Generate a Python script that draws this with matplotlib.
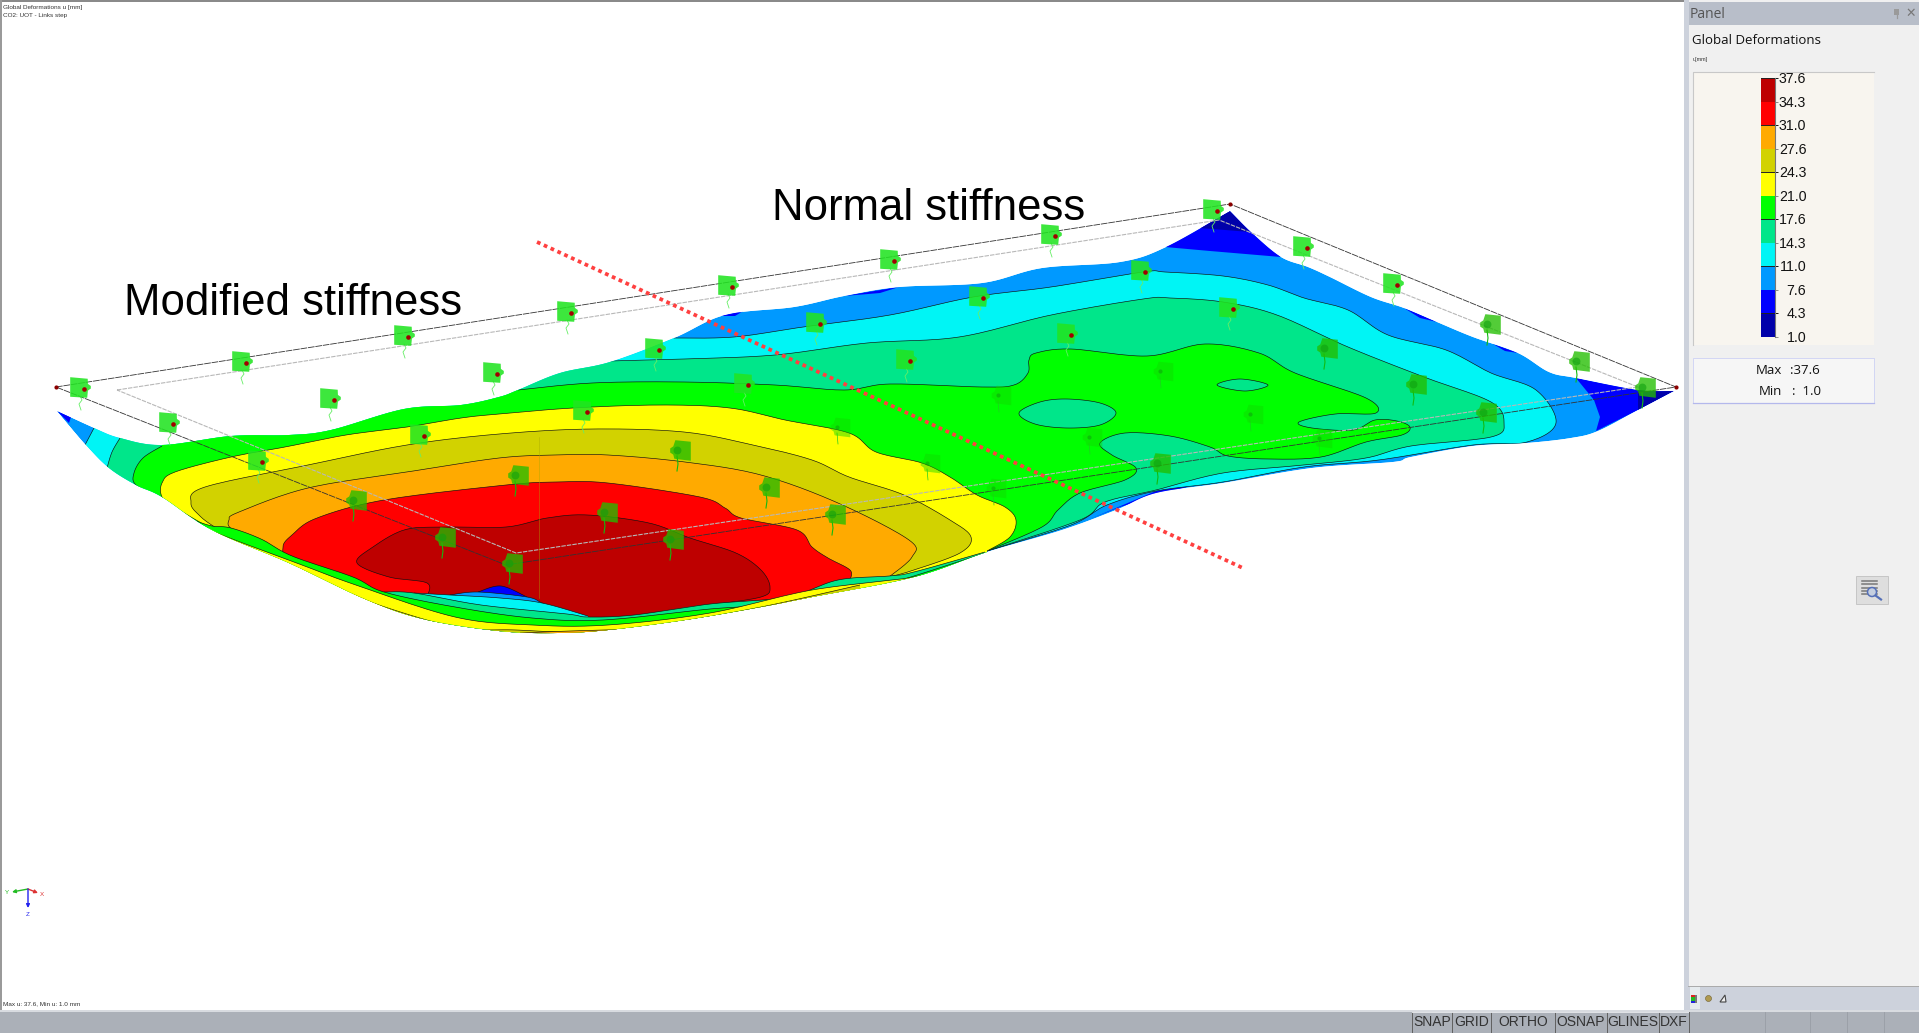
import numpy as np
import matplotlib
matplotlib.use("Agg")
import matplotlib.pyplot as plt
from matplotlib.patches import Polygon, Rectangle, Circle
from matplotlib.transforms import ScaledTranslation

W, H = 1919, 1033
# ---------- legend values ----------
LEVELS = ["37.6","34.3","31.0","27.6","24.3","21.0","17.6","14.3","11.0","7.6","4.3","1.0"]
C_DRED, C_RED, C_ORG, C_OLV, C_YEL, C_GRN, C_TEAL, C_CYAN, C_LBL, C_BLU, C_NVY = (
    "#BE0000","#FF0000","#FFAA00","#D2D200","#FFFF00","#00FF00","#00E68A","#00F5F5","#0099FF","#0000FF","#0000AA")
BAND_COLORS = [C_DRED, C_RED, C_ORG, C_OLV, C_YEL, C_GRN, C_TEAL, C_CYAN, C_LBL, C_BLU, C_NVY]
MAJOR_TICK = [1,0,1,0,1,0,1,0,1,0,1,0]

# ---------- surface outline ----------
SIL_TOP = [(57,411),(94,428),(120,438),(162,445),(231,436),(289,435),(331,430),(404,409),(461,405),(499,397),(518,390),(560,373),(610,362),(674,338),(725,315),(794,307),(844,296),(899,287),(982,283),(1042,268),(1120,262),(1166,247),(1230,211)]
SIL_RIGHT = [(1230,211),(1252,233),(1281,257),(1308,267),(1330,277),(1371,297),(1404,308),(1437,322),(1473,337),(1518,353),(1549,372),(1576,378),(1638,390),(1674,391)]
SIL_BOTTOM = [(1674,391),(1638,410),(1598,431),(1571,438),(1527,443),(1473,446),(1411,457),(1393,462),(1312,468),(1223,483),(1156,493),(1116,510),(1062,530),(987,552),(914,577),(812,597),(761,607),(685,620),(608,630),(557,633),(499,631),(423,619),(365,599),(289,563),(212,530),(162,497),(136,485),(109,468),(86,445),(57,411)]

# ---------- contour boundaries (left piece, main piece) ----------
CYAN_LEFT = [(85,445),(94,428)]
CYAN_MAIN = [(674,338),(734,337),(803,327),(890,315),(973,297),(1051,287),(1143,272),(1165,272),(1223,276),(1268,285),(1304,298),(1348,310),(1388,335),(1446,350),(1491,373),(1536,390),(1556,423),(1527,442),(1473,445),(1379,460),(1304,467),(1223,482),(1156,491),(1107,505),(1071,525),(987,551)]
TEAL_LEFT = [(107,468),(112,452),(120,438)]
TEAL_MAIN = [(610,361),(684,359),(775,355),(867,343),(959,337),(1051,315),(1143,299),(1170,298),(1223,302),(1277,315),(1348,347),(1424,377),(1491,402),(1504,423),(1491,437),(1411,446),(1366,458),(1304,465),(1223,473),(1156,490),(1105,502),(1080,520),(987,551)]
GREEN_LEFT = [(160,497),(136,485),(134,473),(143,458),(162,446)]
GREEN_MAIN = [(518,390),(592,383),(684,382),(775,385),(844,390),(890,384),(982,387),(1014,385),(1028,373),(1029,360),(1036,353),(1071,349),(1147,356),(1205,344),(1259,353),(1295,373),(1366,398),(1376,413),(1335,414),(1299,422),(1312,428),(1353,430),(1375,420),(1397,421),(1410,427),(1402,435),(1366,442),(1321,457),(1268,459),(1228,456),(1210,447),(1170,436),(1125,433),(1100,443),(1112,455),(1136,468),(1125,480),(1080,493),(1058,510),(1042,527),(987,551)]
GREEN_HOLE_A = [(1019,413),(1040,402),(1067,399),(1100,403),(1116,413),(1100,425),(1067,428),(1035,424)]
GREEN_HOLE_B = [(1217,385),(1240,379),(1268,385),(1245,391)]
YELLOW_MAIN = [(208,527),(174,507),(162,497),(162,483),(175,472),(231,457),(285,447),(346,435),(407,427),(461,418),(499,414),(573,408),(661,405),(730,408),(785,420),(849,433),(876,452),(922,463),(950,477),(977,495),(1005,507),(1016,520),(1010,537),(987,551)]
OLIVE_MAIN = [(216,528),(201,517),(191,503),(205,487),(308,465),(407,445),(499,434),(592,429),(684,432),(753,445),(812,460),(849,477),(904,495),(950,520),(971,537),(960,553),(914,570),(889,577)]
ORANGE_MAIN = [(293,560),(270,548),(233,530),(229,520),(239,512),(308,488),(407,472),(499,458),(557,455),(608,455),(685,462),(761,475),(838,503),(909,540),(912,557),(889,577)]
RED_MAIN = [(353,582),(292,560),(283,547),(292,535),(317,518),(384,500),(506,485),(557,482),(608,483),(700,497),(725,508),(741,518),(797,530),(812,547),(828,558),(850,570),(850,580)]
DRED_MAIN = [(427,597),(427,583),(389,577),(357,563),(373,547),(404,530),(440,527),(506,527),(547,518),(588,515),(649,523),(690,538),(736,553),(761,570),(770,587),(761,597),(710,605)]

# ---------- front fold bands ----------
BAND_NAVY = [(478,592),(501,586),(527,597)]
BAND_BLUE = [(450,595),(478,592),(527,597),(542,603),(560,611)]
BAND_CYAN = [(414,593),(450,595),(500,598),(542,603),(588,616)]
BAND_TEAL = [(384,592),(414,593),(481,605),(567,614),(588,617),(634,615),(710,604),(787,597),(838,580),(889,576),(914,572),(985,552)]
BAND_GREEN = [(196,521),(212,526),(231,528),(261,539),(292,556),(353,577),(384,592),(455,607),(532,618),(603,620),(710,609),(787,603),(838,587),(889,582),(914,576),(985,553)]
BAND_YELLOW = [(214,532),(240,542),(302,565),(353,584),(455,617),(532,625),(608,625),(710,613),(812,590),(914,577),(965,563)]
BAND_OLIVE = [(322,582),(370,602),(455,627),(516,630),(583,632),(659,625),(761,607),(860,585)]
BAND_ORANGE = [(520,633),(570,631),(640,629)]

# ---------- corner patches ----------
TIP_LEFT_LBL = [(57,411),(94,428),(85,445)]
TIP_LEFT_BLU = [(57,411),(71,417),(69,423)]
TIP_TOP_BLU = [(1230,211),(1165,247),(1210,251),(1281,257)]
TIP_TOP_NVY = [(1230,211),(1199,228),(1225,230),(1250,232)]
TIP_RIGHT_BLU = [(1576,378),(1638,390),(1674,391),(1638,410),(1596,431),(1600,417),(1594,400)]
TIP_RIGHT_NVY = [(1638,390),(1674,391),(1638,410)]
SLIVER_A = [(844,296),(899,287),(880,293)]
SLIVER_B = [(720,316),(745,310),(735,316)]
SLIVER_C = [(1404,308),(1437,322),(1420,318)]
SLIVER_D = [(1493,344),(1518,353),(1505,351)]
SLIVER_E = [(1156,491),(1300,466),(1200,483),(1120,507),(1090,519)]

# ---------- frames ----------
FRAME_OUTER = [(56,387),(1230,204),(1676,387),(506,565),(56,387)]
FRAME_INNER = [(117,390),(1219,220),(1638,387),(516,553),(117,390)]
FRAME_DOTS_X = [56,1230,1676]
FRAME_DOTS_Y = [387,204,387]
SEP_LINE_X = [537,1245]
SEP_LINE_Y = [242,569]

# ---------- support markers: rows of x / y ----------
SUP_X = [[80,242,404,567,728,890,1051,1213],[169,330,493,655,816,979,1141,1303],[258,420,583,744,906,1067,1229,1393],
         [356,518,680,840,1001,1163,1327,1490],[445,607,769,930,1092,1253,1416,1579],[512,673,835,996,1160,1322,1486,1645]]
SUP_Y = [[387,361,335,311,285,259,234,209],[422,398,372,348,322,296,270,246],[460,434,410,383,359,333,307,283],
         [500,475,450,427,395,371,348,324],[537,512,487,463,437,414,384,361],[563,539,514,488,463,438,412,387]]
# supports lying on the green band, which hardly show
SUP_FAINT = {(3,3),(3,4),(3,5),(4,3),(4,4),(4,5),(5,3),(5,5)}

def spline(pts, closed=False, n=14):
    p = np.array(pts, float)
    if len(p) < 3 and not closed:
        return p
    if closed:
        p = np.vstack([p[-1], p, p[0], p[1]])
    else:
        p = np.vstack([p[0], p, p[-1]])
    out = []
    t = np.linspace(0, 1, n, endpoint=False)[:, None]
    for i in range(1, len(p)-2):
        a, b, c, d = p[i-1], p[i], p[i+1], p[i+2]
        out.append(0.5*(2*b + (c-a)*t + (2*a-5*b+4*c-d)*t**2 + (3*b-a-3*c+d)*t**3))
    out.append(p[-2][None, :])
    return np.vstack(out)

fig = plt.figure(figsize=(W/100, H/100), dpi=100, facecolor="white")
ax = fig.add_axes([0, 0, 1, 1])
ax.set_xlim(0, W); ax.set_ylim(H, 0); ax.axis("off")

sil = np.vstack([spline(SIL_TOP), spline(SIL_RIGHT), spline(SIL_BOTTOM)])
clip = Polygon(sil, closed=True, transform=ax.transData, fc="none", ec="none")
ax.add_patch(clip)
z = [2]

def fill(xy, color, edge=None):
    z[0] += 0.01
    p = Polygon(xy, closed=True, fc=color, ec="none", zorder=z[0], lw=0)
    ax.add_patch(p); p.set_clip_path(clip)
    if edge is not None:
        for e in edge:
            l, = ax.plot(e[:, 0], e[:, 1], color="#101010", lw=0.45, zorder=z[0]+0.001, solid_capstyle="butt")
            l.set_clip_path(clip)

def region(left, main, color):
    m = spline(main)
    if left is not None:
        a = spline(left)
        xy = np.vstack([a, [(a[-1,0],100),(m[0,0],100)], m, [(m[-1,0],800),(a[0,0],800)]])
        fill(xy, color, [a, m])
    else:
        xy = np.vstack([m, [(m[-1,0],800),(m[0,0],800)]])
        fill(xy, color, [m])

fill(sil, C_LBL)
for poly, col in [(TIP_LEFT_LBL,C_LBL),(TIP_LEFT_BLU,C_BLU),(TIP_TOP_BLU,C_BLU),(TIP_TOP_NVY,C_NVY),
                  (TIP_RIGHT_BLU,C_BLU),(TIP_RIGHT_NVY,C_NVY),(SLIVER_A,C_BLU),(SLIVER_B,C_BLU),(SLIVER_C,C_BLU),(SLIVER_D,C_BLU),(SLIVER_E,C_BLU)]:
    fill(np.array(poly, float), col)
region(CYAN_LEFT, CYAN_MAIN, C_CYAN)
region(TEAL_LEFT, TEAL_MAIN, C_TEAL)
region(GREEN_LEFT, GREEN_MAIN, C_GRN)
for hole in (GREEN_HOLE_A, GREEN_HOLE_B):
    h = spline(hole, closed=True)
    fill(h, C_TEAL, [h])
region(None, YELLOW_MAIN, C_YEL)
region(None, OLIVE_MAIN, C_OLV)
region(None, ORANGE_MAIN, C_ORG)
region(None, RED_MAIN, C_RED)
region(None, DRED_MAIN, C_DRED)
for band, col in [(BAND_NAVY,C_BLU),(BAND_BLUE,C_LBL),(BAND_CYAN,C_CYAN),(BAND_TEAL,C_TEAL),(BAND_GREEN,C_GRN),
                  (BAND_YELLOW,C_YEL),(BAND_OLIVE,C_OLV),(BAND_ORANGE,C_ORG)]:
    region(None, band, col)

# frames
fr = np.array(FRAME_INNER); ax.plot(fr[:,0], fr[:,1], color="#B8B8B8", lw=0.8, ls=(0,(4,1)), zorder=5)
fr = np.array(FRAME_OUTER); ax.plot(fr[:,0], fr[:,1], color="#333333", lw=0.6, ls=(0,(8,1)), zorder=5)
ax.scatter(FRAME_DOTS_X, FRAME_DOTS_Y, s=9, color="#8B0000", zorder=6, lw=0)
ax.plot([539,539],[437,598], color="#A8A800", lw=0.4, alpha=0.7, zorder=5)

# supports
box = [(-1,-0.9),(0.65,-1),(0.72,-0.3),(1,-0.1),(1,0.15),(0.72,0.35),(0.7,0.85),(-1,1)]
box2 = [(1,-1),(1,0.85),(-0.5,1),(-0.7,0.4),(-1,0.2),(-1,-0.2),(-0.7,-0.4),(-0.6,-0.8)]
for r, (xs, ys) in enumerate(zip(SUP_X, SUP_Y)):
    for c, (x, y) in enumerate(zip(xs, ys)):
        if r <= 2:
            ax.plot([x,x+2,x-1,x+1],[y+9,y+13,y+17,y+23], color="#66EE66", lw=0.6, zorder=7)
            ax.scatter([x],[y], s=220, marker=box, color="#22E422", alpha=0.88, lw=0, zorder=8)
            ax.scatter([x+4],[y+2], s=11, color="#A00000", lw=0, zorder=9)
        elif (r, c) in SUP_FAINT:
            ax.plot([x-3,x-2],[y+6,y+17], color="#22CC22", lw=0.5, zorder=7)
            ax.scatter([x],[y], s=200, marker=box2, color="#10D800", alpha=0.45, lw=0, zorder=8)
            ax.scatter([x-3],[y], s=9, color="#109010", alpha=0.45, lw=0, zorder=9)
        else:
            ax.plot([x-3,x-2,x-3],[y+6,y+14,y+21], color="#11BB11", lw=0.8, zorder=7)
            ax.scatter([x],[y], s=220, marker=box2, color="#22BE00", alpha=0.78, lw=0, zorder=8)
            ax.scatter([x-3],[y], s=32, color="#0FA00F", alpha=0.6, lw=0, zorder=9)

# separating line
ax.plot(SEP_LINE_X, SEP_LINE_Y, color="#FF4040", lw=2.7, ls=(0,(1,1)), zorder=10)

# annotation text
F = "Liberation Sans"
ax.text(772, 220, "Normal stiffness", fontsize=31.5, family=F, color="black", zorder=11, va="baseline")
ax.text(124, 315, "Modified stiffness", fontsize=31.5, family=F, color="black", zorder=11, va="baseline")
ax.text(3, 7, "Global Deformations u [mm]", fontsize=4.6, family=F, color="#333333", va="center")
ax.text(3, 15, "CO2: UOT - Links step", fontsize=4.6, family=F, color="#333333", va="center")
ax.text(3, 1004, "Max u: 37.6, Min u: 1.0 mm", fontsize=4.6, family=F, color="#333333", va="center")

# triad
ORI = (28, 889)
for (tx, ty, col, lab, lx, ly) in [(12,892,"#22BB22","Y",7,893),(38,893,"#DD3333","X",42,895),(28,908,"#2222EE","Z",28,914)]:
    ax.annotate("", xy=(tx,ty), xytext=ORI, arrowprops=dict(arrowstyle="-|>", color=col, lw=1, mutation_scale=5, shrinkA=0, shrinkB=0))
    ax.text(lx, ly, lab, fontsize=4.5, color=col, ha="center", va="center", family=F)

# panel chrome
ax.add_patch(Rectangle((0,0),W,1.5,fc="#8A8A8A",ec="none",zorder=1))
ax.add_patch(Rectangle((0,0),1.5,1010,fc="#9A9A9A",ec="none",zorder=1))
ax.add_patch(Rectangle((1684,0),W-1684,1010,fc="#F0F0F0",ec="none",zorder=1))
ax.add_patch(Rectangle((1684,0),4.5,1010,fc="#CDD2DC",ec="none",zorder=1.1))
ax.add_patch(Rectangle((1688.5,2),W-1688.5,23,fc="#B8BEC9",ec="none",zorder=1.1))
ax.add_patch(Rectangle((1692.5,72),181.5,273,fc="#F8F5EF",ec="none",zorder=1.1))
ax.plot([1692.5,1692.5,1874],[345,72,72],color="#C8C8C8",lw=0.8,zorder=1.2)
ax.add_patch(Rectangle((1692.5,357.5),181,45,fc="#F6F6F6",ec="none",zorder=1.1))
ax.plot([1692.5,1692.5,1873.5,1873.5],[402.5,357.5,357.5,402.5],color="#D2D6F4",lw=0.7,zorder=1.2)
ax.plot([1692.5,1873.5],[402.5,402.5],color="#B4B8EC",lw=0.9,zorder=1.3)
ax.add_patch(Rectangle((1688,986),W-1688,24,fc="#CDD2DC",ec="none",zorder=1.1))
ax.plot([1688,W],[986,986],color="#AAAAAA",lw=0.7,zorder=1.2)
ax.add_patch(Rectangle((0,1010),W,23,fc="#ABB0B8",ec="none",zorder=1.1))
ax.add_patch(Rectangle((0,1010),W,2,fc="#D8DBE0",ec="none",zorder=1.2))
# toolbar icons
ax.add_patch(Rectangle((1690,987),10,22,fc="#E6EBEE",ec="none",zorder=1.2))
for i, col in enumerate(["#DD2222","#22BB22","#22BB22","#2222DD"]):
    ax.add_patch(Rectangle((1691,994.5+2.2*i),3.5,2.2,fc=col,ec="none",zorder=1.3))
ax.add_patch(Rectangle((1695,994.5),1.5,8.8,fc="#777777",ec="none",zorder=1.3))
ax.add_patch(Circle((1708.5,998.5),3,fc="#B09A50",ec="#706030",lw=0.4,zorder=1.3))
ax.add_patch(Polygon([(1720,1002),(1726,1002),(1725,995)],closed=True,fc="#F0F0F0",ec="#444444",lw=0.8,zorder=1.3))
# search button
ax.add_patch(Rectangle((1856,576),32,28,fc="#DEDEDE",ec="#C6C6C6",lw=0.7,zorder=1.2))
for yy in (581,584.3,587.6,590.9,594):
    ax.plot([1862,1877],[yy,yy],color="#777777",lw=1.1,zorder=1.3)
ax.add_patch(Circle((1872,592),4.5,fc="#C5CFE0",ec="#5570B8",lw=1.1,zorder=1.4))
ax.plot([1875.5,1881],[595.5,599.5],color="#5570B8",lw=1.6,zorder=1.4)

ax.text(1690, 14, "Panel", fontsize=10, family="Open Sans", color="#555555", va="center", zorder=3)
ax.add_patch(Rectangle((1894,9),5,5.5,fc="#9A9A9A",ec="none",zorder=3))
ax.plot([1896.5,1896.5],[14.5,18],color="#9A9A9A",lw=0.9,zorder=3)
ax.text(1911, 13, "\u2715", fontsize=9, color="#777777", ha="center", va="center", zorder=3, family="DejaVu Sans")
ax.text(1692, 40.5, "Global Deformations", fontsize=9.5, family="Open Sans", color="#111111", va="center", zorder=3)
ax.text(1693, 60, "u[mm]", fontsize=4, family=F, color="#333333", va="center", zorder=3)
ax.text(1782, 370.5, "Max", fontsize=9.5, family="Open Sans", color="#111111", ha="right", va="center", zorder=3)
ax.text(1805, 370.5, ":37.6", fontsize=9.5, family="Open Sans", color="#111111", ha="center", va="center", zorder=3)
ax.text(1782, 391.5, "Min", fontsize=9.5, family="Open Sans", color="#111111", ha="right", va="center", zorder=3)
ax.text(1806, 391.5, ":  1.0", fontsize=9.5, family="Open Sans", color="#111111", ha="center", va="center", zorder=3)

for x0, x1, lab in [(1412,1452,"SNAP"),(1452,1491,"GRID"),(1491,1555,"ORTHO"),(1555,1607,"OSNAP"),(1607,1659,"GLINES"),(1659,1689,"DXF")]:
    ax.plot([x0,x0],[1012,1033],color="#606060",lw=0.7,zorder=3)
    ax.plot([x0,x1],[1012,1012],color="#E2E4E8",lw=0.7,zorder=3)
    ax.text((x0+x1)/2, 1021.5, lab, fontsize=10, family=F, color="#333333", ha="center", va="center", zorder=3)
ax.plot([1689,1689],[1012,1033],color="#606060",lw=0.7,zorder=3)
for x in (1765,1810,1847,1884):
    ax.plot([x,x],[1012,1033],color="#999DA5",lw=0.6,zorder=3)

# colour legend
ax_cb = fig.add_axes([1761/W, 1-337/H, 14/W, (337-78)/H], facecolor="none")
ax_cb.barh(np.arange(11)+0.5, [1]*11, height=1, color=BAND_COLORS, lw=0)
ax_cb.set_xlim(0,1); ax_cb.set_ylim(11,0)
ax_cb.set_xticks([])
ax_cb.yaxis.tick_right()
ax_cb.set_yticks(np.arange(12)); ax_cb.set_yticklabels(LEVELS, fontsize=10.2, family=F, color="#111111", ha="right")
ax_cb.tick_params(axis="y", length=2.5, width=0.7, pad=20, color="#333333")
up = ScaledTranslation(0, 0.5/100, fig.dpi_scale_trans)
for lab in ax_cb.get_yticklabels():
    lab.set_transform(lab.get_transform() + up)
for t, maj in zip(ax_cb.yaxis.get_major_ticks(), MAJOR_TICK):
    t.tick2line.set_markeredgecolor("#111111" if maj else "#888888")
for s in ("top","left","bottom"):
    ax_cb.spines[s].set_visible(False)
ax_cb.spines["right"].set_color("#777777"); ax_cb.spines["right"].set_linewidth(0.8)
for i, maj in enumerate(MAJOR_TICK):
    if maj:
        ax_cb.plot([0,1],[i,i],color="#222222",lw=0.7,clip_on=False)

fig.savefig("out.png", dpi=100)
